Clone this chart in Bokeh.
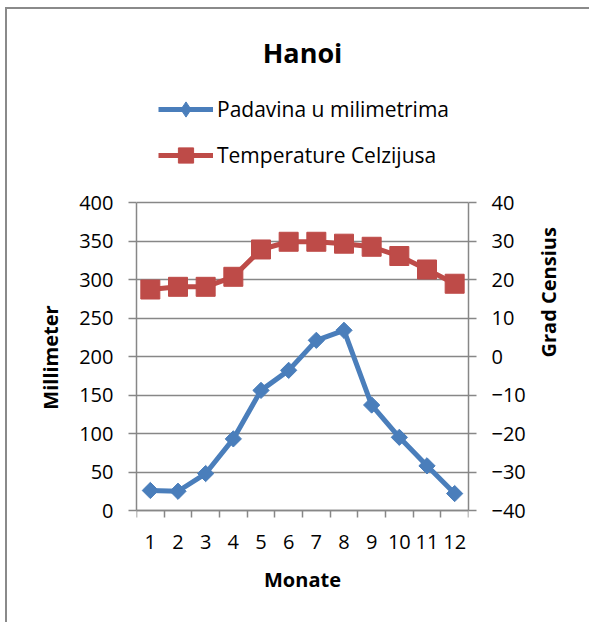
import math
from bokeh.plotting import figure
from bokeh.models import (Range1d, LinearAxis, FixedTicker, Legend, LegendItem, Title,
                          ColumnDataSource)
from bokeh.embed import file_html
from bokeh.resources import INLINE

months = [1, 2, 3, 4, 5, 6, 7, 8, 9, 10, 11, 12]
month_labels = ["1", "2", "3", "4", "5", "6", "7", "8", "9", "10", "11", "12"]
rain_mm = [26, 25, 48, 93, 156, 182, 221, 234, 137, 95, 58, 22]
temp_c = [17.4, 18.1, 18.1, 20.7, 27.8, 29.8, 29.8, 29.3, 28.5, 26.1, 22.6, 18.9]
left_ticks = [0, 50, 100, 150, 200, 250, 300, 350, 400]
right_ticks = [-40, -30, -20, -10, 0, 10, 20, 30, 40]

title_text = "Hanoi"
rain_name = "Padavina u milimetrima"
temp_name = "Temperature Celzijusa"
x_title = "Monate"
y_title = "Millimeter"
y2_title = "Grad Censius"

FONT = "Open Sans"
BLUE = "#4a7ebb"
RED = "#be4b48"
GRID = "#878787"

# layout (canvas pixels)
W, H = 584, 615
MB_LEFT, MB_RIGHT, MB_TOP = 129, 123, 81
ZERO_Y = 501                 # canvas y of value 0
PLOT_H = 308                 # pixel height of the 0..400 band
ppu = PLOT_H / left_ticks[-1]
y_start = -(H - ZERO_Y) / ppu
y_end = (ZERO_Y - MB_TOP) / ppu
t_lo, t_hi = right_ticks[0], right_ticks[-1]
k = (t_hi - t_lo) / (left_ticks[-1] - left_ticks[0])
t_start, t_end = t_lo + k * y_start, t_lo + k * y_end

p = figure(width=W, height=H, output_backend="svg", toolbar_location=None,
           title=None,
           x_range=Range1d(0.5, 12.5), y_range=Range1d(y_start, y_end),
           min_border_left=MB_LEFT, min_border_right=MB_RIGHT, min_border_top=MB_TOP,
           min_border_bottom=0)
p.styles = {"margin-left": "5px", "margin-top": "7px",
            "border-left": "2px solid #8a8a8a", "border-top": "2px solid #8a8a8a"}
p.outline_line_color = None
p.extra_y_ranges = {"t": Range1d(t_start, t_end)}

# x axis, pinned at value 0
p.xaxis.fixed_location = 0
p.xaxis.ticker = FixedTicker(ticks=months, minor_ticks=[m - 0.5 for m in months] + [12.5])
p.xaxis.major_label_overrides = {m: s for m, s in zip(months, month_labels)}
p.xaxis.major_tick_out = 0
p.xaxis.major_tick_in = 0
p.xaxis.minor_tick_out = 7
p.xaxis.minor_tick_in = 0
p.xaxis.minor_tick_line_color = GRID
p.xaxis.minor_tick_line_width = 1.5
p.xaxis.axis_line_color = GRID
p.xaxis.axis_line_width = 1.5
p.xaxis.major_label_standoff = 17
p.xaxis.axis_label = x_title
p.xaxis.axis_label_standoff = 14
p.xgrid.grid_line_color = None

# left axis
p.yaxis.ticker = FixedTicker(ticks=left_ticks)
p.yaxis.bounds = (left_ticks[0], left_ticks[-1])
p.yaxis.major_tick_out = 8
p.yaxis.major_tick_in = 0
p.yaxis.minor_tick_line_color = None
p.yaxis.major_tick_line_color = GRID
p.yaxis.major_tick_line_width = 1.5
p.yaxis.axis_line_color = GRID
p.yaxis.axis_line_width = 1.5
p.yaxis.major_label_standoff = 15
p.yaxis.axis_label = y_title
p.yaxis.axis_label_standoff = 12
p.ygrid.ticker = FixedTicker(ticks=left_ticks)
p.ygrid.grid_line_color = GRID
p.ygrid.grid_line_width = 1.5

# right axis
ax2 = LinearAxis(y_range_name="t", ticker=FixedTicker(ticks=right_ticks),
                 bounds=(t_lo, t_hi))
ax2.major_tick_out = 8
ax2.major_tick_in = 0
ax2.minor_tick_line_color = None
ax2.major_tick_line_color = GRID
ax2.major_tick_line_width = 1.5
ax2.axis_line_color = GRID
ax2.axis_line_width = 1.5
ax2.major_label_standoff = 15
ax2.axis_label = y2_title
ax2.axis_label_standoff = 20
if "axis_label_orientation" in ax2.properties():
    ax2.axis_label_orientation = math.pi / 2
ax2.axis_label_text_align = "center"
p.add_layout(ax2, "right")

for ax in [p.xaxis[0], p.yaxis[0], ax2]:
    ax.major_label_text_font = FONT
    ax.major_label_text_font_size = "20px"
    ax.major_label_text_color = "black"
    ax.axis_label_text_font = FONT
    ax.axis_label_text_font_size = "20px"
    ax.axis_label_text_font_style = "bold"
    ax.axis_label_text_color = "black"

# series
src = ColumnDataSource(dict(m=months, rain=rain_mm, temp=temp_c))
r1 = p.line("m", "rain", source=src, line_color=BLUE, line_width=5)
r2 = p.scatter("m", "rain", source=src, marker="square", angle=math.pi / 4, size=11.5,
               fill_color=BLUE, line_color=BLUE)
r3 = p.line("m", "temp", source=src, y_range_name="t", line_color=RED, line_width=5)
r4 = p.scatter("m", "temp", source=src, y_range_name="t", marker="square", size=19,
               fill_color=RED, line_color=RED)
# diamond used only for the legend swatch
r2_leg = p.scatter("m", "rain", source=src, marker="diamond", size=10,
                   fill_color=BLUE, line_color=BLUE, visible=False)

legend = Legend(items=[LegendItem(label=rain_name, renderers=[r1, r2_leg]),
                       LegendItem(label=temp_name, renderers=[r3, r4])],
                location=(22, 450), orientation="vertical",
                glyph_width=55, glyph_height=38, label_height=38, spacing=8,
                label_standoff=4, padding=0, margin=0,
                border_line_color=None, background_fill_alpha=0,
                inactive_fill_alpha=0,
                label_text_font=FONT, label_text_font_size="21px",
                label_text_color="black")
p.add_layout(legend, "center")

title = Title(text=title_text, text_font=FONT, text_font_size="27px",
              text_font_style="bold", align="center", offset=-2, standoff=40,
              text_color="black")
p.add_layout(title, "above")

open("out.html", "w").write(file_html(p, INLINE))
